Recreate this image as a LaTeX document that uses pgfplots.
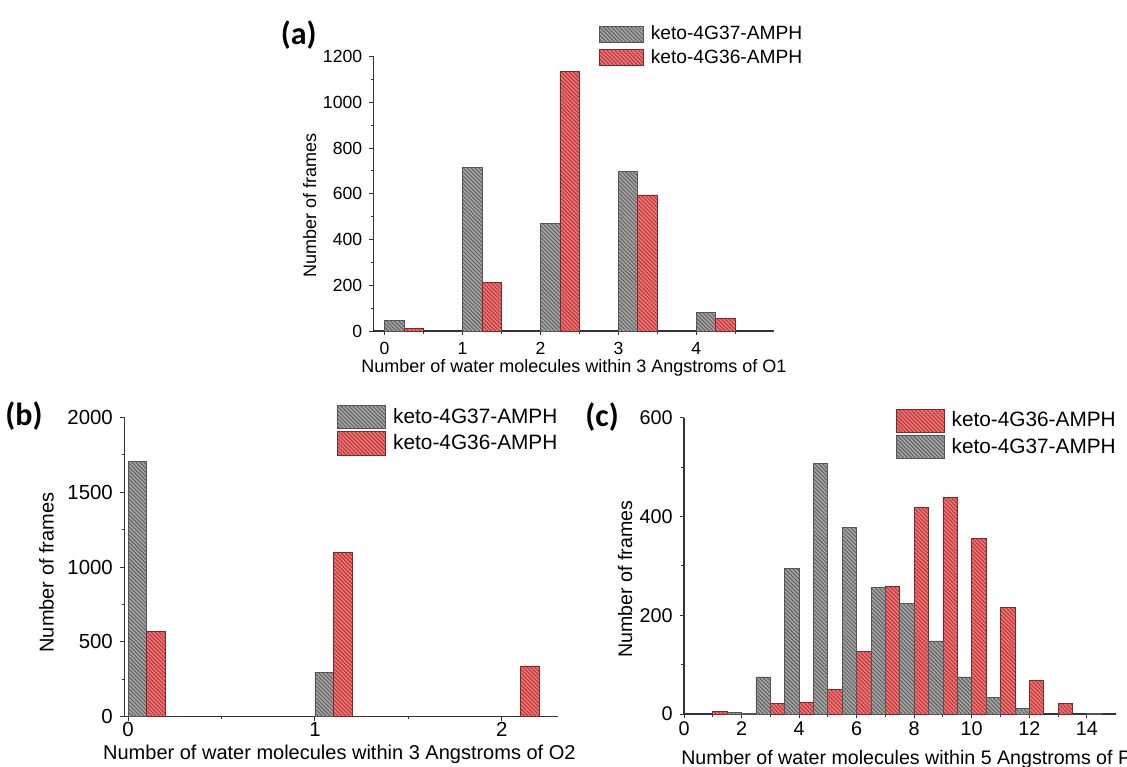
\documentclass[border=0pt]{standalone}
\usepackage{fontspec}
\setmainfont{Liberation Sans}
\newfontfamily\carlito{Carlito}
\usepackage{pgfplots}
\pgfplotsset{compat=1.18}
\usetikzlibrary{patterns.meta}

\definecolor{gfill}{HTML}{A2A2A2}
\definecolor{gline}{HTML}{5E5E5E}
\definecolor{gedge}{HTML}{555555}
\definecolor{rfill}{HTML}{F47070}
\definecolor{rline}{HTML}{A83A3A}
\definecolor{redge}{HTML}{7A2A2A}
\definecolor{axc}{HTML}{333333}

\pgfplotsset{
  grayb/.style={fill=gfill, draw=gedge, line width=0.4pt,
    postaction={pattern={Lines[angle=-45,distance=1.4pt,line width=0.45pt]}, pattern color=gline}},
  redb/.style={fill=rfill, draw=redge, line width=0.4pt,
    postaction={pattern={Lines[angle=-45,distance=1.4pt,line width=0.45pt]}, pattern color=rline}},
  common/.style={scale only axis, axis lines=left,
    axis line style={-, axc, line width=0.6pt},
    tick style={axc, line width=0.5pt}, tick align=outside,
    major tick length=2.2pt, minor tick length=1.3pt, ymin=0,
    /pgf/number format/assume math mode=true,
    /pgf/number format/set thousands separator={},
    legend cell align=left,
    legend style={draw=none, fill=none, inner sep=0pt, outer sep=0pt, anchor=north west},
  },
}

\begin{document}
\begin{tikzpicture}
\path[use as bounding box] (0pt,0pt) rectangle (563.5pt,-383pt);

% ---------------- (a)
\begin{axis}[common, at={(186.8pt,-165.5pt)}, anchor=south west,
  width=200.35pt, height=137.15pt,
  xmin=-0.14, xmax=5, ymax=1200,
  xtick={0,1,2,3,4}, minor xtick={0.5,1.5,2.5,3.5,4.5},
  ytick={0,200,...,1200}, minor y tick num=1,
  tick label style={font=\fontsize{8.8}{10}\selectfont},
  label style={font=\fontsize{9}{10}\selectfont},
  xlabel={Number of water molecules within 3 Angstroms of O1},
  ylabel={Number of frames},
  xlabel style={at={(axis description cs:0.5,-0.1495)}, anchor=base},
  ylabel style={at={(axis description cs:-0.1437,0.456)}, anchor=base},
  legend style={at={(axis description cs:0.5625,1.119)}, font=\fontsize{9.6}{10}\selectfont,
    nodes={inner sep=1pt}, row sep=1.2pt},
  legend image code/.code={\draw[#1] (0pt,-4pt) rectangle (22pt,4pt); \path (24.5pt,0pt);},
]
\addplot[ybar, bar width=0.25, bar shift=0pt, grayb] coordinates {
 (0.125,45) (1.125,716) (2.125,472) (3.125,698) (4.125,80)};
\addlegendentry{keto-4G37-AMPH}
\addplot[ybar, bar width=0.25, bar shift=0pt, redb] coordinates {
 (0.375,10) (1.375,213) (2.375,1137) (3.375,595) (4.375,55)};
\addlegendentry{keto-4G36-AMPH}
\end{axis}

% ---------------- (b)
\begin{axis}[common, at={(62.15pt,-358.35pt)}, anchor=south west,
  width=216.8pt, height=149.7pt,
  xmin=-0.02, xmax=2.3, ymax=2000,
  xtick={0,1,2}, minor xtick={0.5,1.5},
  ytick={0,500,...,2000}, minor y tick num=1,
  tick label style={font=\fontsize{10.2}{11}\selectfont},
  xticklabel style={yshift=3pt},
  label style={font=\fontsize{10}{11}\selectfont},
  xlabel={Number of water molecules within 3 Angstroms of O2},
  ylabel={Number of frames},
  xlabel style={at={(axis description cs:0.496,-0.1445)}, anchor=base},
  ylabel style={at={(axis description cs:-0.163,0.4816)}, anchor=base},
  legend style={at={(axis description cs:0.4915,1.041)}, font=\fontsize{10.4}{11}\selectfont,
    nodes={inner sep=1pt}, row sep=1.2pt},
  legend image code/.code={\draw[#1] (0pt,-5.8pt) rectangle (24pt,5.8pt); \path (26.5pt,0pt);},
]
\addplot[ybar, bar width=0.1, bar shift=0pt, grayb] coordinates {
 (0.05,1708) (1.05,294)};
\addlegendentry{keto-4G37-AMPH}
\addplot[ybar, bar width=0.1, bar shift=0pt, redb] coordinates {
 (0.15,568) (1.15,1096) (2.15,339)};
\addlegendentry{keto-4G36-AMPH}
\end{axis}

% ---------------- (c)
\begin{axis}[common, at={(342pt,-357pt)}, anchor=south west,
  width=215.8pt, height=148.15pt,
  xmin=0, xmax=15, ymax=600,
  xtick={0,2,...,14}, minor x tick num=1,
  ytick={0,200,400,600}, minor y tick num=1,
  tick label style={font=\fontsize{9.9}{11}\selectfont},
  xticklabel style={yshift=2pt},
  label style={font=\fontsize{9.8}{11}\selectfont},
  xlabel={Number of water molecules within 5 Angstroms of P},
  ylabel={Number of frames},
  xlabel style={at={(axis description cs:-0.0227,-0.171)}, anchor=base west},
  ylabel style={at={(axis description cs:-0.12,0.455)}, anchor=base},
  legend style={at={(axis description cs:0.4907,1.03)}, font=\fontsize{10.4}{11}\selectfont,
    nodes={inner sep=1pt}, row sep=1.2pt},
  legend image code/.code={\draw[#1] (0pt,-5.8pt) rectangle (24pt,5.8pt); \path (26.5pt,0pt);},
]
\addplot[ybar, bar width=0.5, bar shift=0pt, redb] coordinates {
 (1.25,6) (3.25,22) (4.25,24) (5.25,49) (6.25,126) (7.25,259) (8.25,418)
 (9.25,439) (10.25,355) (11.25,215) (12.25,68) (13.25,22)};
\addlegendentry{keto-4G36-AMPH}
\addplot[ybar, bar width=0.5, bar shift=0pt, grayb] coordinates {
 (1.75,4) (2.25,1) (2.75,75) (3.75,294) (4.75,507) (5.75,377) (6.75,256)
 (7.75,223) (8.75,148) (9.75,75) (10.75,34) (11.75,11) (14.25,2)};
\addlegendentry{keto-4G37-AMPH}
\end{axis}

% panel labels
\node[anchor=east, font=\carlito\bfseries\fontsize{16}{18}\selectfont, inner sep=0pt] at (158.5pt,-17.3pt) {(a)};
\node[anchor=east, font=\carlito\bfseries\fontsize{16}{18}\selectfont, inner sep=0pt] at (21.5pt,-208pt) {(b)};
\node[anchor=west, font=\carlito\bfseries\fontsize{16}{18}\selectfont, inner sep=0pt] at (292.5pt,-208.75pt) {(c)};
\end{tikzpicture}
\end{document}
